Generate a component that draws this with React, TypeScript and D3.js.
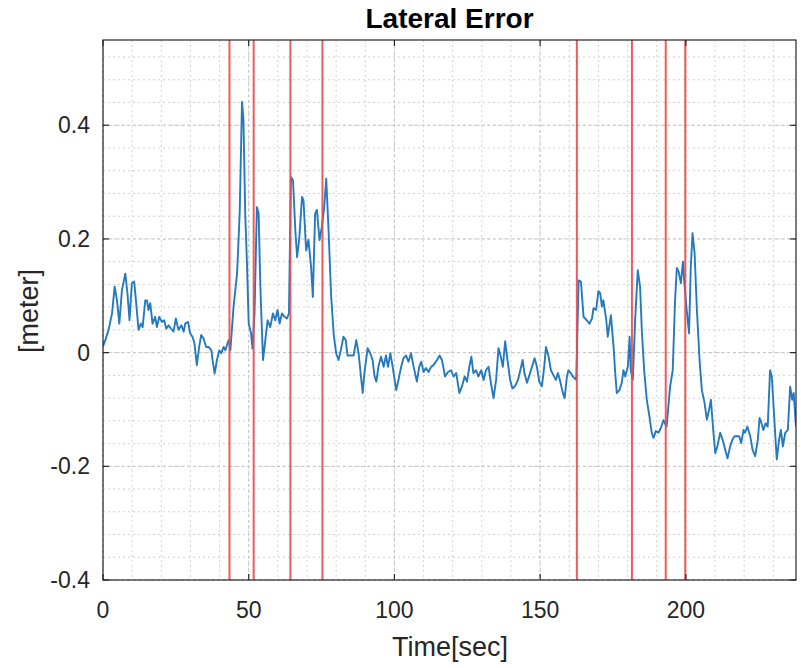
import React from "react";
import * as d3 from "d3";

const time: number[] = [
  0, 0.8, 1.9, 3.1, 4.0, 4.8, 5.6, 6.5, 7.65, 8.4, 9.1, 9.9, 10.7, 11.3, 12.2, 13.0, 13.6, 14.5, 15.1, 15.6,
  16.2, 17.0, 17.9, 18.5, 19.3, 20.2, 21.0, 21.7, 22.5, 23.4, 24.2, 25.0, 25.9, 26.9, 27.7, 28.2, 29.2, 29.9,
  30.7, 31.4, 32.2, 33.0, 33.7, 34.5, 35.4, 36.2, 37.2, 37.6, 38.3, 39.1, 39.9, 40.6, 41.4, 42.0, 42.5, 43.1,
  43.7, 44.8, 46.0, 46.9, 47.7, 48.2, 48.8, 49.4, 50.0, 50.8, 51.3, 52.0, 52.8, 53.4, 54.0, 54.9, 55.7, 56.5,
  57.4, 58.3, 59.1, 59.9, 60.6, 61.4, 62.3, 63.1, 63.8, 64.5, 65.2, 66.0, 66.6, 67.3, 68.3, 68.8, 69.7, 70.5,
  71.4, 72.0, 72.8, 73.4, 74.3, 75.1, 75.9, 76.6, 77.4, 78.3, 79.2, 80.0, 80.8, 81.6, 82.5, 83.3, 83.9, 84.8,
  86.0, 86.9, 87.7, 89.1, 89.7, 90.8, 91.7, 92.5, 93.2, 93.8, 94.5, 95.4, 96.3, 97.1, 97.8, 98.6, 99.4, 100.6,
  101.4, 102.3, 103.1, 104.0, 104.8, 105.7, 106.6, 107.7, 108.5, 109.2, 110.0, 110.8, 111.7, 112.6, 113.4,
  114.6, 115.5, 116.3, 117.4, 118.4, 119.4, 120.3, 121.2, 122.3, 123.2, 124.1, 124.9, 125.7, 126.4, 127.1,
  128.0, 128.8, 129.8, 130.6, 131.4, 132.3, 133.1, 134.0, 134.9, 135.7, 136.5, 137.2, 138.0, 138.8, 139.7,
  140.5, 141.4, 142.4, 143.2, 144.0, 144.6, 145.5, 146.3, 147.2, 148.1, 148.9, 149.7, 150.6, 151.4, 152.0,
  152.9, 153.7, 154.6, 155.4, 156.1, 156.9, 157.7, 158.4, 159.2, 159.7, 160.5, 161.2, 162.4, 163.2, 164.0,
  164.9, 166.0, 166.9, 167.8, 168.3, 169.2, 170.0, 170.6, 171.2, 171.7, 172.7, 173.2, 174.3, 175.2, 175.7,
  176.3, 177.2, 178.0, 178.6, 179.2, 180.1, 180.7, 181.1, 181.8, 182.6, 183.5, 184.3, 184.9, 185.7, 186.6,
  187.5, 188.3, 188.9, 189.7, 190.6, 191.4, 192.3, 193.4, 194.6, 195.5, 196.3, 196.9, 197.5, 198.3, 199.0,
  199.5, 200.3, 201.1, 201.7, 202.3, 203.0, 203.8, 204.7, 205.5, 206.4, 207.2, 208.0, 208.6, 209.3, 210.1,
  210.8, 211.8, 212.6, 213.5, 214.3, 215.2, 216.0, 216.7, 217.5, 218.3, 219.0, 219.8, 220.3, 221.1, 222.1,
  222.9, 223.8, 224.7, 225.3, 225.8, 226.6, 227.4, 228.1, 228.9, 229.5, 230.3, 231.2, 232.0, 232.6, 233.3,
  234.1, 235.0, 235.8, 236.5, 237.0, 237.8,
];

const lateral: number[] = [
  0.011, 0.022, 0.04, 0.069, 0.116, 0.092, 0.051, 0.11, 0.139, 0.104, 0.057, 0.122, 0.125, 0.092, 0.04, 0.051,
  0.045, 0.092, 0.092, 0.075, 0.087, 0.051, 0.063, 0.045, 0.063, 0.054, 0.057, 0.042, 0.048, 0.042, 0.037, 0.06,
  0.04, 0.048, 0.037, 0.051, 0.054, 0.034, 0.028, 0.016, -0.022, 0.01, 0.031, 0.025, 0.01, 0.01, 0.004, -0.013,
  -0.037, -0.013, 0.004, -0.001, 0.01, 0.004, 0.013, 0.022, 0.004, 0.081, 0.139, 0.245, 0.441, 0.409, 0.245,
  0.157, 0.051, 0.034, 0.007, 0.069, 0.256, 0.245, 0.116, -0.013, 0.022, 0.057, 0.045, 0.069, 0.057, 0.075,
  0.051, 0.069, 0.063, 0.06, 0.069, 0.309, 0.303, 0.215, 0.168, 0.198, 0.274, 0.268, 0.18, 0.198, 0.151, 0.098,
  0.245, 0.251, 0.198, 0.221, 0.256, 0.306, 0.215, 0.098, 0.03, -0.001, -0.013, 0.004, 0.028, 0.022, -0.005,
  -0.005, -0.005, 0.022, -0.001, -0.071, -0.036, 0.008, -0.001, -0.013, -0.042, -0.051, -0.025, -0.007, -0.025,
  -0.005, -0.025, -0.001, -0.025, -0.066, -0.048, -0.025, -0.01, -0.005, -0.016, -0.001, -0.025, -0.051, -0.025,
  -0.016, -0.034, -0.027, -0.034, -0.025, -0.022, -0.013, -0.005, -0.013, -0.042, -0.034, -0.031, -0.042,
  -0.036, -0.071, -0.059, -0.042, -0.051, -0.025, -0.007, -0.036, -0.031, -0.042, -0.031, -0.048, -0.031,
  -0.025, -0.053, -0.08, -0.048, 0.008, -0.007, -0.025, 0.02, -0.013, -0.048, -0.063, -0.059, -0.048, -0.031,
  -0.013, -0.036, -0.053, -0.04, -0.025, -0.01, -0.025, -0.051, -0.059, -0.025, 0.01, -0.007, -0.031, -0.04,
  -0.048, -0.036, -0.051, -0.069, -0.08, -0.042, -0.031, -0.036, -0.042, -0.048, 0.127, 0.125, 0.063, 0.057,
  0.051, 0.06, 0.078, 0.075, 0.108, 0.105, 0.081, 0.092, 0.057, 0.028, 0.066, 0.01, -0.031, -0.071, -0.066,
  -0.053, -0.031, -0.042, -0.025, 0.028, -0.031, -0.048, 0.057, 0.145, 0.116, 0.039, -0.031, -0.083, -0.112,
  -0.141, -0.15, -0.138, -0.141, -0.133, -0.119, -0.13, -0.06, -0.031, 0.092, 0.149, 0.143, 0.122, 0.16, 0.122,
  0.075, 0.034, 0.152, 0.21, 0.175, 0.075, -0.013, -0.066, -0.088, -0.118, -0.1, -0.083, -0.13, -0.177, -0.165,
  -0.141, -0.153, -0.171, -0.186, -0.165, -0.153, -0.147, -0.147, -0.147, -0.159, -0.136, -0.141, -0.13, -0.147,
  -0.171, -0.182, -0.153, -0.115, -0.121, -0.136, -0.124, -0.13, -0.031, -0.042, -0.112, -0.188, -0.153, -0.136,
  -0.165, -0.141, -0.136, -0.06, -0.083, -0.071, -0.13,
];

const eventTimes: number[] = [43.4, 51.7, 64.3, 75.3, 162.6, 181.5, 193.1, 199.8];

const xTicks: number[] = [0, 50, 100, 150, 200];
const yTicks: number[] = [-0.4, -0.2, 0, 0.2, 0.4];
const xTickLabels: string[] = ["0", "50", "100", "150", "200"];
const yTickLabels: string[] = ["-0.4", "-0.2", "0", "0.2", "0.4"];
const xDomain: [number, number] = [0, 237.8];
const yDomain: [number, number] = [-0.4, 0.55];

const W = 801;
const H = 668;
const L = 103;
const R = 796;
const T = 40;
const B = 580;
const FONT = "'Liberation Sans', Arial, Helvetica, sans-serif";

export default function App() {
  const x = d3.scaleLinear().domain(xDomain).range([L, R]);
  const y = d3.scaleLinear().domain(yDomain).range([B, T]);

  const xMinor = d3.range(0, xDomain[1] + 0.001, 10);
  const yMinor = d3.range(-0.4, yDomain[1] + 0.0001, 0.04);

  const pts: [number, number][] = time.map((t, i) => [t, lateral[i]]);
  const line = d3
    .line<[number, number]>()
    .x((d) => x(d[0]))
    .y((d) => y(d[1]));

  const tickLen = 6;

  return (
    <svg
      width={W}
      height={H}
      style={{ position: "absolute", left: 0, top: 0, background: "#fff" }}
      fontFamily={FONT}
    >
      <rect x={0} y={0} width={W} height={H} fill="#fff" />
      <rect x={L} y={T} width={R - L} height={B - T} fill="#fff" />
      {xMinor.map((v, i) => (
        <line key={"xm" + i} x1={x(v)} x2={x(v)} y1={T} y2={B} stroke="#d2d2d2" strokeWidth={1} strokeDasharray="2,3" />
      ))}
      {yMinor.map((v, i) => (
        <line key={"ym" + i} x1={L} x2={R} y1={y(v)} y2={y(v)} stroke="#d2d2d2" strokeWidth={1} strokeDasharray="2,3" />
      ))}
      {xTicks.map((v, i) => (
        <line key={"xg" + i} x1={x(v)} x2={x(v)} y1={T} y2={B} stroke="#c4c4c4" strokeWidth={1} strokeDasharray="3,3" />
      ))}
      {yTicks.map((v, i) => (
        <line key={"yg" + i} x1={L} x2={R} y1={y(v)} y2={y(v)} stroke="#c4c4c4" strokeWidth={1} strokeDasharray="3,3" />
      ))}
      <defs>
        <clipPath id="plotclip">
          <rect x={L} y={T} width={R - L} height={B - T} />
        </clipPath>
      </defs>
      <path d={line(pts) || ""} fill="none" stroke="#2479bf" strokeWidth={1.9} strokeLinejoin="round" clipPath="url(#plotclip)" />
      {eventTimes.map((v, i) => (
        <line key={"ev" + i} x1={x(v)} x2={x(v)} y1={T} y2={B} stroke="#ec4a4e" strokeWidth={2} opacity={0.9} />
      ))}
      <rect x={L} y={T} width={R - L} height={B - T} fill="none" stroke="#262626" strokeWidth={1.2} />
      {xTicks.map((v, i) => (
        <g key={"xt" + i}>
          <line x1={x(v)} x2={x(v)} y1={B} y2={B - tickLen} stroke="#262626" strokeWidth={1.2} />
          <line x1={x(v)} x2={x(v)} y1={T} y2={T + tickLen} stroke="#262626" strokeWidth={1.2} />
          <text x={x(v)} y={618} textAnchor="middle" fontSize={23} fill="#262626">
            {xTickLabels[i]}
          </text>
        </g>
      ))}
      {yTicks.map((v, i) => (
        <g key={"yt" + i}>
          <line x1={L} x2={L + tickLen} y1={y(v)} y2={y(v)} stroke="#262626" strokeWidth={1.2} />
          <line x1={R} x2={R - tickLen} y1={y(v)} y2={y(v)} stroke="#262626" strokeWidth={1.2} />
          <text x={90} y={y(v) + 8} textAnchor="end" fontSize={23} fill="#262626">
            {yTickLabels[i]}
          </text>
        </g>
      ))}
      <text x={(L + R) / 2} y={28} textAnchor="middle" fontSize={28} fontWeight="bold" fill="#000">
        Lateral Error
      </text>
      <text x={450} y={656} textAnchor="middle" fontSize={27} fill="#262626">
        Time[sec]
      </text>
      <text
        transform={`translate(38, 311) rotate(-90)`}
        textAnchor="middle"
        fontSize={27}
        fill="#262626"
      >
        [meter]
      </text>
    </svg>
  );
}
